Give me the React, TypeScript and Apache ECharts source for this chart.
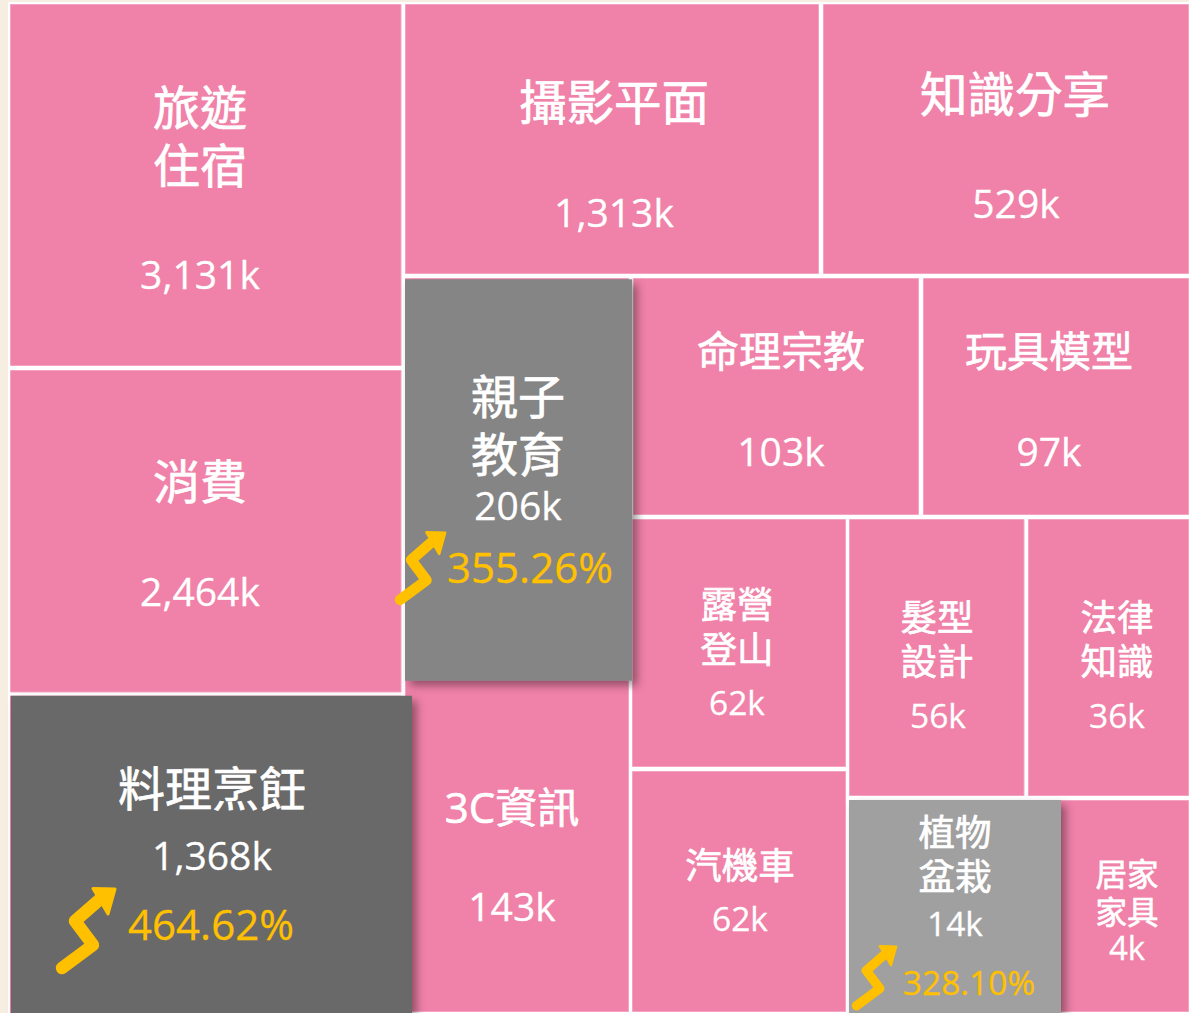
import React, { useEffect, useRef } from "react";
import * as echarts from "echarts";

// ---- Data ----
const categories = [
  "旅遊住宿", "消費", "攝影平面", "知識分享", "命理宗教", "玩具模型", "3C資訊", "露營登山",
  "汽機車", "髮型設計", "法律知識", "居家家具", "親子教育", "料理烹飪", "植物盆栽",
];
const titleLines = [
  ["旅遊", "住宿"], ["消費"], ["攝影平面"], ["知識分享"], ["命理宗教"], ["玩具模型"], ["3C資訊"], ["露營", "登山"],
  ["汽機車"], ["髮型", "設計"], ["法律", "知識"], ["居家", "家具"], ["親子", "教育"], ["料理烹飪"], ["植物", "盆栽"],
];
const valuesK = [3131, 2464, 1313, 529, 103, 97, 143, 62, 62, 56, 36, 4, 206, 1368, 14];
const growthPct = [null, null, null, null, null, null, null, null, null, null, null, null, "355.26%", "464.62%", "328.10%"];

// ---- Layout of the hand-arranged treemap (px in the 1189x1013 axis space) ----
const PINK = "#f081a8";
const cellRects = [
  [10, 4, 401.5, 366], [10, 370, 401.5, 692.5], [405, 4, 819, 274], [823, 4, 1189, 274],
  [633, 278, 919, 515], [923, 278, 1189, 515], [405, 278, 629, 1012], [632, 519, 846, 767],
  [632, 771, 846, 1012], [849, 519, 1024.5, 796], [1028, 519, 1189, 796], [849, 800, 1189, 1012],
  [405, 279.3, 632.3, 680.7], [11, 695.7, 412, 1013], [849, 800, 1061, 1013],
];
const cellFill = [PINK, PINK, PINK, PINK, PINK, PINK, PINK, PINK, PINK, PINK, PINK, PINK, "#858585", "#696969", "#a0a0a0"];
const titleCentre = [
  [200, 106.5], [200, 481], [614, 101.5], [1015, 93.5], [781, 350.5], [1049, 350.5], [512, 806.5], [737, 604],
  [740, 865], [937, 617], [1117, 617], [1127, 873], [518, 395.5], [212, 787.5], [955, 832],
];
const titleSize = [47, 47, 47.5, 47.5, 42, 42, 42, 36.5, 36.5, 36.5, 36.5, 31.5, 47, 47, 36.5];
const lineGap = [58, 0, 0, 0, 0, 0, 0, 45, 0, 44, 44, 38, 58, 0, 44];
const valueCentre = [
  [200, 273], [200, 590], [614, 211], [1016, 202], [781, 450], [1049, 450], [512, 905], [737, 702],
  [740, 918], [938, 715], [1117, 715], [1127, 947], [518, 504], [212, 854], [955, 923],
];
const valueSize = [39, 39, 39, 39, 39, 39, 39, 33.5, 33.5, 33.5, 33.5, 33, 39, 39, 33.5];
const growthCentre = [[530, 566], [211, 923], [969, 982]];
const growthSize = [42, 42, 33.5];
const arrowOrigin = [[395, 531], [56, 887], [852, 945]];
const arrowScale = [0.85, 1, 0.75];
const arrowLine = [[6, 81], [37, 58], [19, 34], [50, 7]];
const arrowHead = [[37, 1.5], [59, 2], [52, 27]];

const FONT = '"Open Sans", "Noto Sans CJK TC", sans-serif';

function renderCell(params: any, api: any) {
  const i = api.value(4);
  const [x0, y0] = api.coord([api.value(0), api.value(1)]);
  const [x1, y1] = api.coord([api.value(2), api.value(3)]);
  const children: any[] = [];
  const gi = i - 12;
  if (gi === 1) {
    // pink cell that stays visible as a sliver beside the raised dark tile
    children.push({ type: "rect", shape: { x: 10, y: y0, width: 391, height: y1 - y0 }, style: { fill: PINK } });
  }
  const raised = gi >= 0;
  children.push(
    raised
      ? {
          type: "rect",
          shape: { x: x0, y: y0, width: x1 - x0, height: y1 - y0 },
          style: { fill: cellFill[i], shadowBlur: 8, shadowOffsetX: 5, shadowOffsetY: 5, shadowColor: "rgba(0,0,0,0.38)" },
        }
      : {
          type: "rect",
          shape: { x: x0 + 0.5, y: y0 + 0.5, width: x1 - x0 - 1, height: y1 - y0 - 1 },
          style: { fill: cellFill[i], stroke: "#f5a3c1", lineWidth: 1 },
        },
  );
  const tc = api.coord(titleCentre[i]);
  titleLines[i].forEach((line, k) => {
    children.push({
      type: "text",
      style: {
        text: line, x: tc[0], y: tc[1] + k * lineGap[i], align: "center", verticalAlign: "middle",
        fontFamily: FONT, fontSize: titleSize[i], fill: "#ffffff", stroke: "#ffffff", lineWidth: 0.7,
      },
    });
  });
  const vc = api.coord(valueCentre[i]);
  children.push({
    type: "text",
    style: {
      text: valuesK[i].toLocaleString("en-US") + "k", x: vc[0], y: vc[1], align: "center", verticalAlign: "middle",
      fontFamily: FONT, fontSize: valueSize[i], fill: "#ffffff", stroke: "#ffffff", lineWidth: 0.3,
    },
  });
  if (growthPct[i]) {
    const gc = api.coord(growthCentre[gi]);
    children.push({
      type: "text",
      style: {
        text: growthPct[i], x: gc[0], y: gc[1], align: "center", verticalAlign: "middle",
        fontFamily: FONT, fontSize: growthSize[gi], fill: "#ffc000", stroke: "#ffc000", lineWidth: 0.3,
      },
    });
    const ao = api.coord(arrowOrigin[gi]);
    children.push({
      type: "group", x: ao[0], y: ao[1], scaleX: arrowScale[gi], scaleY: arrowScale[gi],
      children: [
        { type: "polyline", shape: { points: arrowLine }, style: { fill: "none", stroke: "#ffc000", lineWidth: 12.5, lineJoin: "round", lineCap: "round" } },
        { type: "polygon", shape: { points: arrowHead }, style: { fill: "#ffc000", stroke: "#ffc000", lineWidth: 3, lineJoin: "round" } },
      ],
    });
  }
  return { type: "group", children };
}

export default function App() {
  const ref = useRef<HTMLDivElement>(null);
  useEffect(() => {
    const chart = echarts.init(ref.current!, null, { renderer: "svg" });
    chart.setOption({
      animation: false,
      backgroundColor: "#f6efe1",
      tooltip: { show: false },
      grid: { left: 0, right: 0, top: 0, bottom: 0 },
      xAxis: { type: "value", min: 0, max: 1189, show: false },
      yAxis: { type: "value", min: 0, max: 1013, inverse: true, show: false },
      graphic: [{ type: "rect", z: -1, shape: { x: 8, y: 2, width: 1181, height: 1011 }, style: { fill: "#ffffff" } }],
      series: [{
        type: "custom",
        name: "分類",
        coordinateSystem: "cartesian2d",
        clip: false,
        silent: true,
        encode: { x: [0, 2], y: [1, 3] },
        renderItem: renderCell,
        data: categories.map((c, i) => ({ name: c, value: [...cellRects[i], i] })),
      }],
    });
    return () => chart.dispose();
  }, []);
  return <div ref={ref} style={{ position: "absolute", left: 0, top: 0, width: 1189, height: 1013 }} />;
}
